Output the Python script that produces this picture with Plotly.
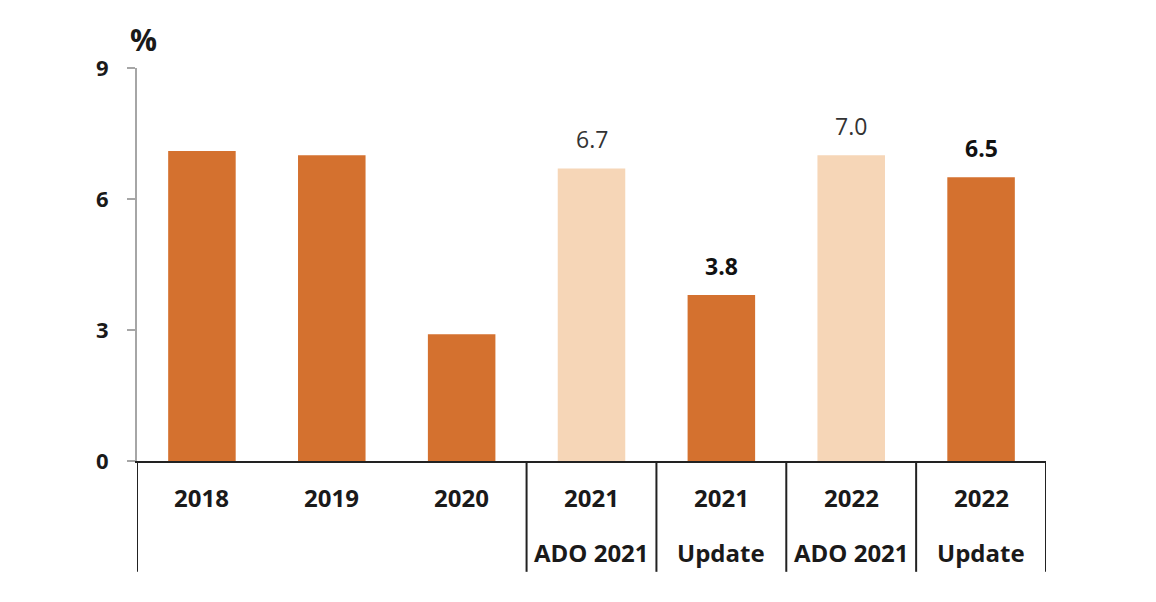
import plotly.graph_objects as go

years = ["2018", "2019", "2020", "2021", "2021", "2022", "2022"]
sublabels = ["", "", "", "ADO 2021", "Update", "ADO 2021", "Update"]
values = [7.1, 7.0, 2.9, 6.7, 3.8, 7.0, 6.5]
is_forecast_ado = [False, False, False, True, False, True, False]
show_label = [False, False, False, True, True, True, True]
bold_label = [False, False, False, False, True, False, True]
y_ticks = [0, 3, 6, 9]

DARK = "#D4712F"
LIGHT = "#F6D6B7"
FONT = "Open Sans"

idx = list(range(len(values)))
colors = [LIGHT if a else DARK for a in is_forecast_ado]

fig = go.Figure()
fig.add_trace(go.Bar(x=idx, y=values, marker=dict(color=colors, line=dict(width=0)),
                     width=0.52, hoverinfo="skip"))

annotations = []
for i, v in enumerate(values):
    if show_label[i]:
        t = f"{v:.1f}"
        if bold_label[i]:
            t = f"<b>{t}</b>"
        annotations.append(dict(x=i, y=v, xref="x", yref="y", text=t, showarrow=False,
                                yanchor="bottom", yshift=11,
                                font=dict(family=FONT, size=23,
                                          color="#333333" if not bold_label[i] else "#111111")))
    annotations.append(dict(x=i, y=-0.092, xref="x", yref="paper", text=f"<b>{years[i]}</b>",
                            showarrow=False, yanchor="middle",
                            font=dict(family=FONT, size=24, color="#1a1a1a")))
    if sublabels[i]:
        annotations.append(dict(x=i, y=-0.234, xref="x", yref="paper", text=f"<b>{sublabels[i]}</b>",
                                showarrow=False, yanchor="middle",
                                font=dict(family=FONT, size=24, color="#1a1a1a")))

annotations.append(dict(x=0, y=1, xref="paper", yref="paper", text="<b>%</b>",
                        showarrow=False, xanchor="left", yanchor="bottom", xshift=-9, yshift=6,
                        font=dict(family=FONT, size=30, color="#1a1a1a")))

shapes = []
for xb in [-0.5, 2.5, 3.5, 4.5, 5.5, 6.5]:
    shapes.append(dict(type="line", xref="x", yref="paper", x0=xb, x1=xb, y0=0, y1=-0.282,
                       line=dict(color="#222222", width=2)))

fig.update_layout(
    width=1156, height=602,
    margin=dict(l=129, r=118, t=60, b=149),
    paper_bgcolor="white", plot_bgcolor="white",
    showlegend=False,
    annotations=annotations,
    shapes=shapes,
    xaxis=dict(range=[-0.5, 6.5], showticklabels=False, showgrid=False, zeroline=False,
               showline=True, linecolor="#222222", linewidth=2, ticks=""),
    yaxis=dict(range=[0, 9], tickvals=y_ticks, ticktext=[f"<b>{t}</b>" for t in y_ticks],
               showgrid=False, zeroline=False, showline=True, linecolor="#a6a6a6", linewidth=2,
               ticks="outside", ticklen=8, tickcolor="#a6a6a6", tickwidth=2,
               ticklabelstandoff=14,
               tickfont=dict(family=FONT, size=22, color="#1a1a1a")),
)

fig.write_html("out.html")
